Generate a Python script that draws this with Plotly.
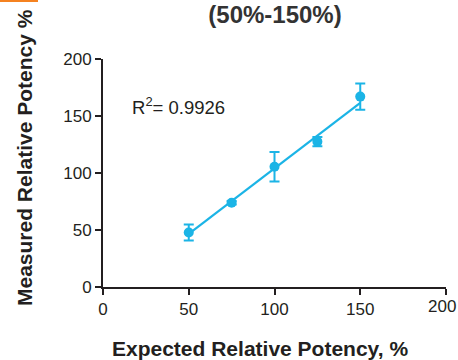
import plotly.graph_objects as go

expected = [50, 75, 100, 125, 150]
measured = [47.8, 73.9, 105.5, 127.5, 167.0]
err = [7.0, 1.5, 13.0, 4.0, 11.5]
fit_x = [50, 150]
fit_y = [46.5, 161.5]
ticks = [0, 50, 100, 150, 200]

cyan = "#1BB4E6"
dark = "#231F20"
font = "Liberation Sans, Arial, sans-serif"

fig = go.Figure()
fig.add_trace(go.Scatter(x=fit_x, y=fit_y, mode="lines",
                         line=dict(color=cyan, width=2.2), showlegend=False))
fig.add_trace(go.Scatter(x=expected, y=measured, mode="markers",
                         marker=dict(color=cyan, size=10),
                         error_y=dict(type="data", array=err, color=cyan,
                                      thickness=2, width=5),
                         showlegend=False))

# R^2 label
fig.add_annotation(x=0.08, y=0.795, xref="paper", yref="paper",
                   text="R<sup>2</sup>= 0.9926", showarrow=False,
                   xanchor="left", yanchor="middle",
                   font=dict(family=font, size=18.5, color=dark))

# last x tick label (kept inside the page)
xt_text = [str(t) for t in ticks[:-1]] + [""]
fig.add_annotation(x=ticks[-1], y=0, xref="x", yref="paper",
                   text=str(ticks[-1]), showarrow=False,
                   xanchor="center", yanchor="top", xshift=-4, yshift=-8,
                   font=dict(family=font, size=17, color=dark))

# axis titles
fig.add_annotation(x=(260 - 103) / 343, y=1 - (348 - 59) / 228,
                   xref="paper", yref="paper",
                   text="<b>Expected Relative Potency, %</b>", showarrow=False,
                   xanchor="center", yanchor="middle",
                   font=dict(family=font, size=21, color=dark))
fig.add_annotation(x=(24 - 103) / 343, y=1 - (158 - 59) / 228,
                   xref="paper", yref="paper",
                   text="<b>Measured Relative Potency %</b>", showarrow=False,
                   textangle=-90, xanchor="center", yanchor="middle",
                   font=dict(family=font, size=21, color=dark))

fig.add_shape(type="rect", xref="paper", yref="paper",
              x0=-103 / 343, x1=(38 - 103) / 343,
              y0=1 + (59 - 2) / 228, y1=1 + 59 / 228,
              fillcolor="#F58220", line_width=0, layer="above")

fig.update_layout(
    width=458, height=360,
    margin=dict(l=103, r=12, t=59, b=73, autoexpand=False),
    paper_bgcolor="white", plot_bgcolor="white",
    title=dict(text="<b>(50%-150%)</b>", x=275 / 458, y=1 - 15 / 360,
               xanchor="center", yanchor="middle",
               font=dict(family=font, size=24, color="#333333")),
    xaxis=dict(range=[0, 200], tickvals=ticks, ticktext=xt_text,
               ticks="outside", ticklen=6, automargin=False,
               tickwidth=2, tickcolor=dark, showline=True, linewidth=2,
               linecolor=dark, showgrid=False, zeroline=False,
               tickfont=dict(family=font, size=17, color=dark)),
    yaxis=dict(range=[0, 200], tickvals=ticks, ticks="outside", ticklen=6,
               automargin=False,
               tickwidth=2, tickcolor=dark, showline=True, linewidth=2,
               linecolor=dark, showgrid=False, zeroline=False,
               tickfont=dict(family=font, size=17, color=dark)),
)

fig.write_html("out.html", config={"displayModeBar": False},
               post_script="document.body.style.margin='0';"
                           "document.body.style.overflow='hidden';")
